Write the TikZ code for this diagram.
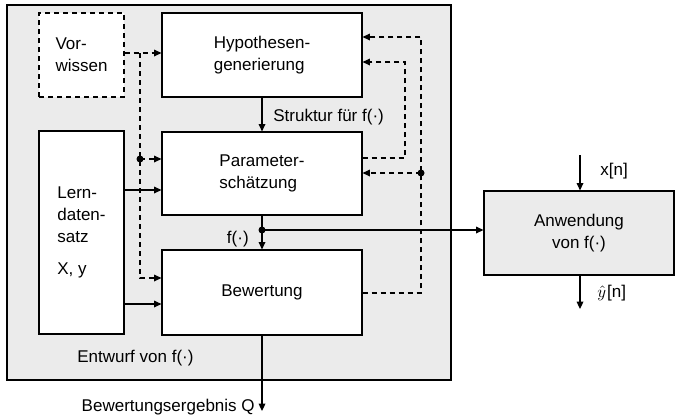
\documentclass[tikz,border=0pt]{standalone}
\usepackage{fontspec}
\setmainfont{Liberation Sans}
\usepackage{amsmath}
\usetikzlibrary{arrows.meta}
\definecolor{bggray}{RGB}{235,235,235}
\newcommand{\junction}[1]{\fill (#1) circle (2.1pt);}
\tikzset{
	box/.style = {draw, line width = 0.7pt, fill = white, inner sep = 0pt},
	dbox/.style = {box, dash pattern = on 3.2pt off 2.2pt},
	arr/.style = {line width = 0.7pt, -{Triangle[length = 4.4pt, width = 4pt]}},
	darr/.style = {arr, dash pattern = on 3.2pt off 2.2pt},
	lbl/.style = {inner sep = 0pt}
}

\begin{document}
\begin{tikzpicture}[x = 0.6pt, y = -0.6pt, font = \fontsize{10.2}{13.2}\selectfont]

	\useasboundingbox (0,0) rectangle (675,416);
	
	\draw[line width = 0.7pt, fill = bggray] (7,5) rectangle (451,380);
	
	\node[dbox, minimum width = 51pt, minimum height = 50.4pt, align = left] (vorw) at (81.5,55) {Vor-\\wissen};
	\node[box, minimum width = 120pt, minimum height = 50.4pt, align = left] (hypo) at (262,55) {Hypothesen-\\generierung};
	\node[box, minimum width = 120pt, minimum height = 49.8pt, align = left] (param) at (262,173.5) {Parameter-\\schätzung};
	\node[box, minimum width = 120pt, minimum height = 51pt] (bew) at (262,292.5) {Bewertung};
	\node[box, minimum width = 51pt, minimum height = 121.8pt, align = left] (lern) at (81.5,232.5) {Lern-\\daten-\\satz\\[6pt]X, y};
	\node[box, fill = bggray, minimum width = 114pt, minimum height = 50.4pt, align = center] (anw) at (579,233) {Anwendung\\von f(·)};
	
	\node[lbl, anchor = west] (entw) at (77,358) {Entwurf von f(·)};
	
	% Hauptpfad
	\draw[arr] (hypo) -- (param);
	\node[lbl, anchor = west] (strukt) at (273,117) {Struktur für f(·)};
	\coordinate (fdot) at (262,230);
	\draw[line width = 0.7pt] (param) -- (fdot);
	\draw[arr] (fdot) -- (bew);
	\junction{fdot}
	\node[lbl, anchor = east] (flbl) at (249,239) {f(·)};
	\draw[arr] (fdot) -- (fdot -| anw.west);
	\coordinate (qend) at (262,411);
	\draw[arr] (bew) -- (qend);
	\node[lbl, anchor = east] (qlbl) at (255,407) {Bewertungsergebnis Q};
	
	% Anwendung
	\coordinate (xin) at (580,155);
	\draw[arr] (xin) -- (xin |- anw.north);
	\node[lbl, anchor = west] (xlbl) at (600,171) {x[n]};
	\coordinate (yout) at (580,309);
	\draw[arr] (yout |- anw.south) -- (yout);
	\node[lbl, anchor = west] (ylbl) at (597,293) {$\hat{y}$\kern0.6pt[n]};
	
	% Lerndaten
	\draw[arr] (lern.east |- 0,190) -- (param.west |- 0,190);
	\draw[arr] (lern.east |- 0,304) -- (bew.west |- 0,304);
	
	% Vorwissen
	\draw[darr] (vorw.east |- 0,53) -- (hypo.west |- 0,53);
	\draw[darr] (140,53) -- (140,278) -- (bew.west |- 0,278);
	\coordinate (vdot) at (140,159);
	\junction{vdot}
	\draw[darr] (vdot) -- (param.west |- vdot);
	
	% Rueckfuehrung
	\draw[darr] (bew.east |- 0,293) -| (421,37) -- (hypo.east |- 0,37);
	\coordinate (rdot) at (421,173);
	\junction{rdot}
	\draw[darr] (rdot) -- (param.east |- rdot);
	\draw[darr] (param.east |- 0,158) -| (405,62) -- (hypo.east |- 0,62);

\end{tikzpicture}
\end{document}
